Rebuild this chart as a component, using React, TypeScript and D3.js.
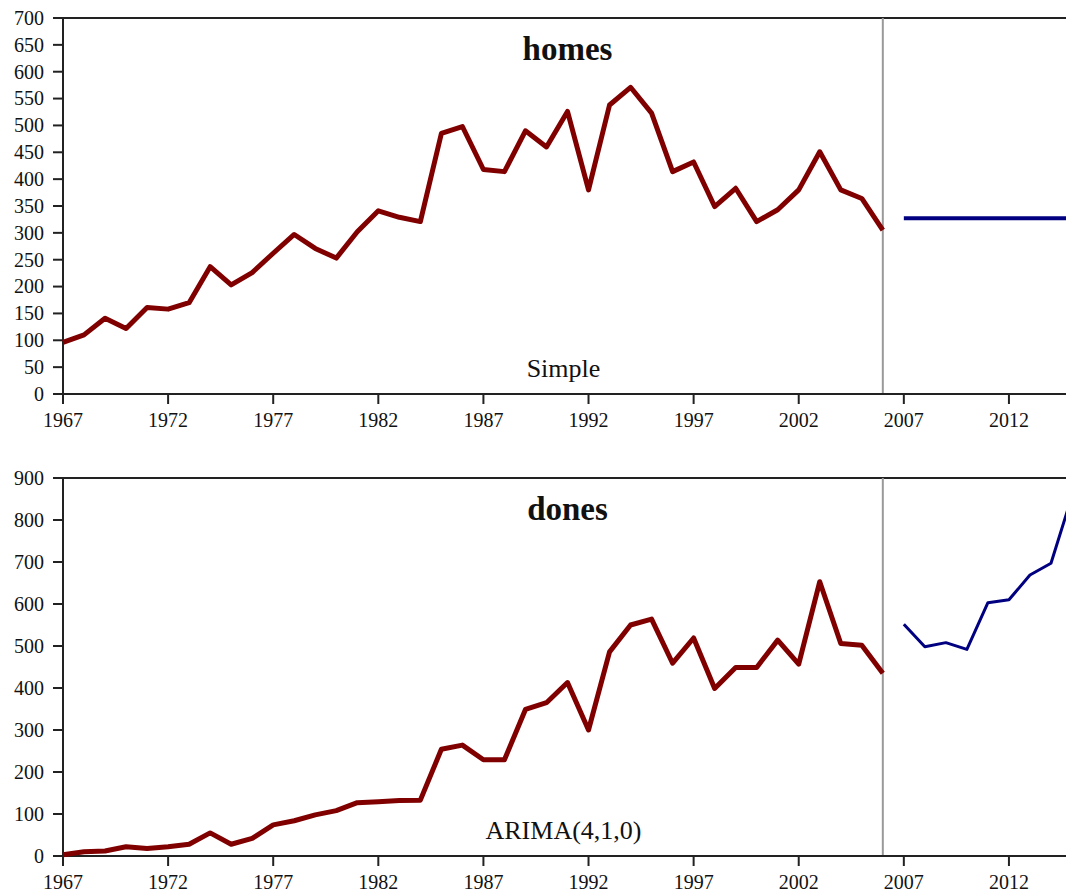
import React from "react";
import * as d3 from "d3";

const histYears = d3.range(1967, 2007);
const fcYears = d3.range(2007, 2016);

const homes = [96, 110, 141, 122, 161, 158, 170, 237, 203, 226, 262, 297, 271, 253, 302, 341, 329, 321, 485, 498, 418, 414, 490, 460, 526, 380, 538, 571, 523, 414, 432, 349, 383, 321, 343, 380, 451, 380, 364, 305];
const homesForecast = [327, 327, 327, 327, 327, 327, 327, 327, 327];

const dones = [3, 10, 12, 22, 18, 22, 28, 55, 28, 42, 74, 84, 98, 108, 127, 129, 132, 133, 254, 264, 229, 229, 349, 365, 413, 300, 486, 550, 564, 459, 519, 399, 449, 449, 514, 457, 653, 506, 502, 435];
const donesForecast = [552, 498, 508, 492, 603, 610, 669, 697, 857];

const xTickYears = [1967, 1972, 1977, 1982, 1987, 1992, 1997, 2002, 2007, 2012];
const homesYTicks = d3.range(0, 701, 50);
const donesYTicks = d3.range(0, 901, 100);

const FONT = "'Liberation Serif', 'Times New Roman', serif";

type PanelProps = {
  top: number;
  bottom: number;
  yMax: number;
  yTicks: number[];
  hist: number[];
  fc: number[];
  title: string;
  method: string;
  fcWidth: number;
};

function Panel({ top, bottom, yMax, yTicks, hist, fc, title, method, fcWidth }: PanelProps) {
  const x = d3.scaleLinear().domain([1967, 2015]).range([63, 1072]);
  const y = d3.scaleLinear().domain([0, yMax]).range([bottom, top]);
  const line = d3
    .line<[number, number]>()
    .x((d) => x(d[0]))
    .y((d) => y(d[1]));
  const histPts: [number, number][] = histYears.map((yr, i) => [yr, hist[i]]);
  const fcPts: [number, number][] = fcYears.map((yr, i) => [yr, fc[i]]);
  const cx = (x(1967) + x(2015)) / 2;
  return (
    <g>
      {/* frame top */}
      <line x1={x(1967)} x2={x(2015)} y1={top} y2={top} stroke="#222" strokeWidth={2} />
      {/* forecast divider */}
      <line x1={x(2006)} x2={x(2006)} y1={top} y2={bottom} stroke="#999" strokeWidth={2} />
      {/* y axis */}
      <line x1={x(1967)} x2={x(1967)} y1={top} y2={bottom + 10} stroke="#222" strokeWidth={2} />
      {yTicks.map((t) => (
        <g key={"y" + t}>
          <line x1={x(1967) - 10} x2={x(1967)} y1={y(t)} y2={y(t)} stroke="#222" strokeWidth={2} />
          <text x={44} y={y(t)} dy="0.34em" textAnchor="end" fontSize={20} fontFamily={FONT} fill="#111">
            {t}
          </text>
        </g>
      ))}
      {/* x axis */}
      <line x1={x(1967) - 10} x2={x(2015)} y1={bottom} y2={bottom} stroke="#222" strokeWidth={2} />
      {xTickYears.map((t) => (
        <g key={"x" + t}>
          <line x1={x(t)} x2={x(t)} y1={bottom} y2={bottom + 10} stroke="#222" strokeWidth={2} />
          <text x={x(t)} y={bottom + 33} textAnchor="middle" fontSize={20} fontFamily={FONT} fill="#111">
            {t}
          </text>
        </g>
      ))}
      <path d={line(histPts) || ""} fill="none" stroke="#800000" strokeWidth={5} strokeLinejoin="round" />
      <path d={line(fcPts) || ""} fill="none" stroke="#000080" strokeWidth={fcWidth} strokeLinejoin="round" />
      <text x={cx} y={top + 42} textAnchor="middle" fontSize={33} fontWeight="bold" fontFamily={FONT} fill="#111">
        {title}
      </text>
      <text x={cx - 4} y={bottom - 17} textAnchor="middle" fontSize={26} fontFamily={FONT} fill="#111">
        {method}
      </text>
    </g>
  );
}

export default function App() {
  return (
    <svg
      width={1066}
      height={896}
      style={{ position: "absolute", left: 0, top: 0, background: "#fff" }}
    >
      <rect width={1066} height={896} fill="#fff" />
      <Panel top={18} bottom={394} yMax={700} yTicks={homesYTicks} hist={homes} fc={homesForecast} title="homes" method="Simple" fcWidth={4} />
      <Panel top={478} bottom={856} yMax={900} yTicks={donesYTicks} hist={dones} fc={donesForecast} title="dones" method="ARIMA(4,1,0)" fcWidth={3} />
    </svg>
  );
}
